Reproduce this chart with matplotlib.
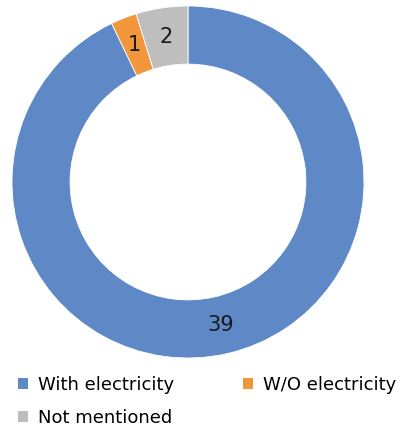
import matplotlib.pyplot as plt
from matplotlib.patches import Patch

labels = ['With electricity', 'W/O electricity', 'Not mentioned']
values = [39, 1, 2]
colors = ['#5E88C6', '#F1963B', '#BEBEBE']

fig = plt.figure(figsize=(4.02, 4.32), dpi=100)
ax = fig.add_axes([12 / 402, 74 / 432, 352 / 402, 352 / 432])

wedges, texts = ax.pie(values, colors=colors, startangle=90, counterclock=False,
                       radius=1.0, wedgeprops=dict(width=0.33, edgecolor='white', linewidth=0.6),
                       labels=[str(v) for v in values], labeldistance=0.835,
                       textprops=dict(fontsize=15, color='#1a1a1a', ha='center', va='center'))
ax.set_aspect('equal')
ax.set_xlim(-1, 1)
ax.set_ylim(-1, 1)

# row-wise order for a 2-column legend (matplotlib fills by column)
order = [0, 2, 1]
handles = [Patch(facecolor=colors[i], edgecolor='none') for i in order]
fig.legend(handles, [labels[i] for i in order], loc='upper left',
           bbox_to_anchor=(0.004, 0.168), ncol=2,
           frameon=False, fontsize=13, handlelength=0.55, handleheight=0.55,
           handletextpad=0.55, columnspacing=3.85, labelspacing=0.85)

fig.savefig('out.png', dpi=100)
